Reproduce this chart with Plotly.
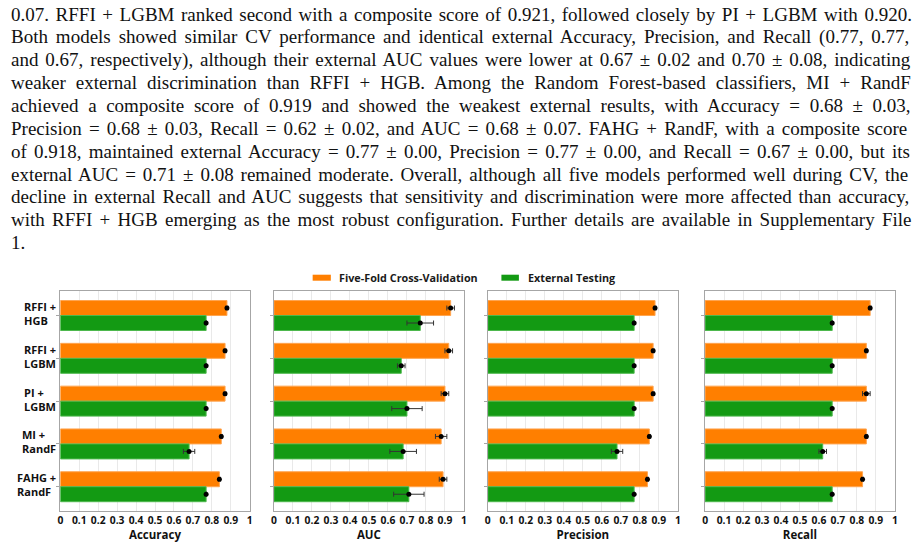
import plotly.graph_objects as go

# ---------------- data ----------------
categories = ["RFFI + HGB", "RFFI + LGBM", "PI + LGBM", "MI + RandF", "FAHG + RandF"]
category_labels = ["RFFI +<br>HGB", "RFFI +<br>LGBM", "PI +<br>LGBM", "MI +<br>RandF", "FAHG +<br>RandF"]
metrics = ["Accuracy", "AUC", "Precision", "Recall"]
series_names = ["Five-Fold Cross-Validation", "External Testing"]
tick_values = [0, 0.1, 0.2, 0.3, 0.4, 0.5, 0.6, 0.7, 0.8, 0.9, 1]
tick_labels = ["0", "0.1", "0.2", "0.3", "0.4", "0.5", "0.6", "0.7", "0.8", "0.9", "1"]

cv_accuracy = [0.88, 0.87, 0.87, 0.85, 0.84]
cv_accuracy_err = [0.005, 0.005, 0.005, 0.005, 0.005]
ext_accuracy = [0.77, 0.77, 0.77, 0.68, 0.77]
ext_accuracy_err = [0.0, 0.0, 0.0, 0.03, 0.0]

cv_auc = [0.93, 0.92, 0.90, 0.88, 0.89]
cv_auc_err = [0.02, 0.02, 0.02, 0.03, 0.02]
ext_auc = [0.77, 0.67, 0.70, 0.68, 0.71]
ext_auc_err = [0.07, 0.02, 0.08, 0.07, 0.08]

cv_precision = [0.88, 0.87, 0.87, 0.85, 0.84]
cv_precision_err = [0.005, 0.005, 0.005, 0.005, 0.005]
ext_precision = [0.77, 0.77, 0.77, 0.68, 0.77]
ext_precision_err = [0.0, 0.0, 0.0, 0.03, 0.0]

cv_recall = [0.87, 0.85, 0.85, 0.85, 0.83]
cv_recall_err = [0.005, 0.005, 0.02, 0.005, 0.005]
ext_recall = [0.67, 0.67, 0.67, 0.62, 0.67]
ext_recall_err = [0.0, 0.0, 0.0, 0.02, 0.0]

paragraph_lines = [
    "0.07. RFFI + LGBM ranked second with a composite score of 0.921, followed closely by PI + LGBM with 0.920.",
    "Both models showed similar CV performance and identical external Accuracy, Precision, and Recall (0.77, 0.77,",
    "and 0.67, respectively), although their external AUC values were lower at 0.67 ± 0.02 and 0.70 ± 0.08, indicating",
    "weaker external discrimination than RFFI + HGB. Among the Random Forest-based classifiers, MI + RandF",
    "achieved a composite score of 0.919 and showed the weakest external results, with Accuracy = 0.68 ± 0.03,",
    "Precision = 0.68 ± 0.03, Recall = 0.62 ± 0.02, and AUC = 0.68 ± 0.07. FAHG + RandF, with a composite score",
    "of 0.918, maintained external Accuracy = 0.77 ± 0.00, Precision = 0.77 ± 0.00, and Recall = 0.67 ± 0.00, but its",
    "external AUC = 0.71 ± 0.08 remained moderate. Overall, although all five models performed well during CV, the",
    "decline in external Recall and AUC suggests that sensitivity and discrimination were more affected than accuracy,",
    "with RFFI + HGB emerging as the most robust configuration. Further details are available in Supplementary File",
    "1.",
]

cv_values = [cv_accuracy, cv_auc, cv_precision, cv_recall]
cv_errors = [cv_accuracy_err, cv_auc_err, cv_precision_err, cv_recall_err]
ext_values = [ext_accuracy, ext_auc, ext_precision, ext_recall]
ext_errors = [ext_accuracy_err, ext_auc_err, ext_precision_err, ext_recall_err]

# ---------------- styling ----------------
W, H = 915, 548
ORANGE = "#FF7F00"
ORANGE_EDGE = "#FFA550"
GREEN = "#139A13"
GREEN_EDGE = "#4DB84D"
FRAME = "#A6A6A6"
GRID = "#E9E9E9"
SANS = "Open Sans"
SERIF = "Liberation Serif"

def px_x(p):
    return p / W

def px_y(p):
    return 1 - p / H

x_domains_px = [(57.7, 248.3), (272.7, 464.0), (488.0, 679.3), (706.7, 897.7)]
y_domain = [px_y(510.7), px_y(290.7)]

fig = go.Figure()

for k, metric in enumerate(metrics):
    xa = "x" if k == 0 else f"x{k+1}"
    ya = "y" if k == 0 else f"y{k+1}"
    fig.add_trace(go.Bar(
        x=cv_values[k], y=categories, orientation="h", name=series_names[0],
        marker=dict(color=ORANGE, line=dict(color=ORANGE_EDGE, width=1)),
        error_x=dict(type="data", array=cv_errors[k], color="#333333", thickness=1, width=2.5),
        xaxis=xa, yaxis=ya, showlegend=False,
    ))
    fig.add_trace(go.Bar(
        x=ext_values[k], y=categories, orientation="h", name=series_names[1],
        marker=dict(color=GREEN, line=dict(color=GREEN_EDGE, width=1)),
        error_x=dict(type="data", array=ext_errors[k], color="#333333", thickness=1, width=2.5),
        xaxis=xa, yaxis=ya, showlegend=False,
    ))
    fig.add_trace(go.Scatter(
        x=cv_values[k], y=categories, orientation="h", mode="markers",
        marker=dict(color="black", size=5), xaxis=xa, yaxis=ya, showlegend=False,
        hoverinfo="skip",
    ))
    fig.add_trace(go.Scatter(
        x=ext_values[k], y=categories, orientation="h", mode="markers",
        marker=dict(color="black", size=5), xaxis=xa, yaxis=ya, showlegend=False,
        hoverinfo="skip",
    ))

    d0, d1 = x_domains_px[k]
    xkey = "xaxis" if k == 0 else f"xaxis{k+1}"
    ykey = "yaxis" if k == 0 else f"yaxis{k+1}"
    fig.update_layout(**{
        xkey: dict(
            domain=[px_x(d0), px_x(d1)], anchor=ya, range=[0, 1],
            tickvals=tick_values, ticktext=tick_labels,
            tickfont=dict(family=SANS, size=10.3, color="#111111", weight="bold"),
            showgrid=True, gridcolor=GRID, gridwidth=1, zeroline=False,
            showline=True, linecolor=FRAME, linewidth=1, mirror=True, ticks="",
            title=dict(text=metric, font=dict(family=SANS, size=11.5, color="#111111", weight="bold"),
                       standoff=4),
            fixedrange=True,
        ),
        ykey: dict(
            domain=y_domain, anchor=xa, type="category",
            categoryorder="array", categoryarray=categories,
            range=[4.56, -0.58], showticklabels=False,
            ticks="outside", ticklen=3, tickcolor=FRAME, tickwidth=1,
            showgrid=False, zeroline=False,
            showline=True, linecolor=FRAME, linewidth=1, mirror=True,
            fixedrange=True,
        ),
    })

# ---------------- annotations ----------------
annotations = []

# category labels (left aligned block)
for i, lab in enumerate(category_labels):
    annotations.append(dict(
        text=lab, xref="paper", yref="y", x=px_x(55), y=i, xanchor="right", yanchor="middle",
        align="left", showarrow=False, yshift=2,
        font=dict(family=SANS, size=11, color="#111111", weight="bold"),
    ))

# manual legend
legend_items = [(311.7, 330.0, 336.0, ORANGE, series_names[0]),
                (501.7, 519.3, 526.5, GREEN, series_names[1])]
shapes = []
for x0, x1, tx, col, name in legend_items:
    shapes.append(dict(type="rect", xref="paper", yref="paper",
                       x0=px_x(x0), x1=px_x(x1), y0=px_y(280.7), y1=px_y(274.7),
                       fillcolor=col, line=dict(width=0)))
    annotations.append(dict(
        text=name, xref="paper", yref="paper", x=px_x(tx), y=px_y(277.7),
        xanchor="left", yanchor="middle", showarrow=False,
        font=dict(family=SANS, size=10.8, color="#1a1a1a", weight="bold"),
    ))

# paragraph text (Times-metric widths for justification)
TIMES_W = {
    " ": 250, "!": 333, "(": 333, ")": 333, "+": 564, ",": 250, "-": 333, ".": 250, "/": 278,
    ":": 278, ";": 278, "=": 564, "±": 564,
    "0": 500, "1": 500, "2": 500, "3": 500, "4": 500, "5": 500, "6": 500, "7": 500, "8": 500, "9": 500,
    "A": 722, "B": 667, "C": 667, "D": 722, "E": 611, "F": 556, "G": 722, "H": 722, "I": 333,
    "J": 389, "K": 722, "L": 611, "M": 889, "N": 722, "O": 722, "P": 556, "Q": 722, "R": 667,
    "S": 556, "T": 611, "U": 722, "V": 722, "W": 944, "X": 722, "Y": 722, "Z": 611,
    "a": 444, "b": 500, "c": 444, "d": 500, "e": 444, "f": 333, "g": 500, "h": 500, "i": 278,
    "j": 278, "k": 500, "l": 278, "m": 778, "n": 500, "o": 500, "p": 500, "q": 500, "r": 333,
    "s": 389, "t": 278, "u": 500, "v": 500, "w": 722, "x": 500, "y": 500, "z": 444,
}
PFONT = 19
LEFT, RIGHT = 6.0, 907.0

def natural_width(s):
    return sum(TIMES_W.get(c, 500) for c in s) * PFONT / 1000.0

for i, line in enumerate(paragraph_lines):
    baseline = 20.7 + 22.83 * i
    center = baseline - 0.3375 * PFONT
    txt = line
    if i < len(paragraph_lines) - 1:
        nsp = line.count(" ")
        extra = (RIGHT - LEFT - natural_width(line)) / nsp
        txt = f'<span style="word-spacing:{extra:.2f}px">{line}</span>'
    annotations.append(dict(
        text=txt, xref="paper", yref="paper", x=px_x(LEFT), y=px_y(center),
        xanchor="left", yanchor="middle", showarrow=False, align="left",
        font=dict(family=SERIF, size=PFONT, color="#111111"),
    ))

fig.update_layout(
    width=W, height=H, autosize=False,
    margin=dict(l=0, r=0, t=0, b=0, pad=0),
    paper_bgcolor="white", plot_bgcolor="white",
    barmode="group", bargap=0.30, bargroupgap=0,
    scattermode="group", scattergap=0.30,
    showlegend=False,
    annotations=annotations, shapes=shapes,
)

fig.write_html("out.html")
